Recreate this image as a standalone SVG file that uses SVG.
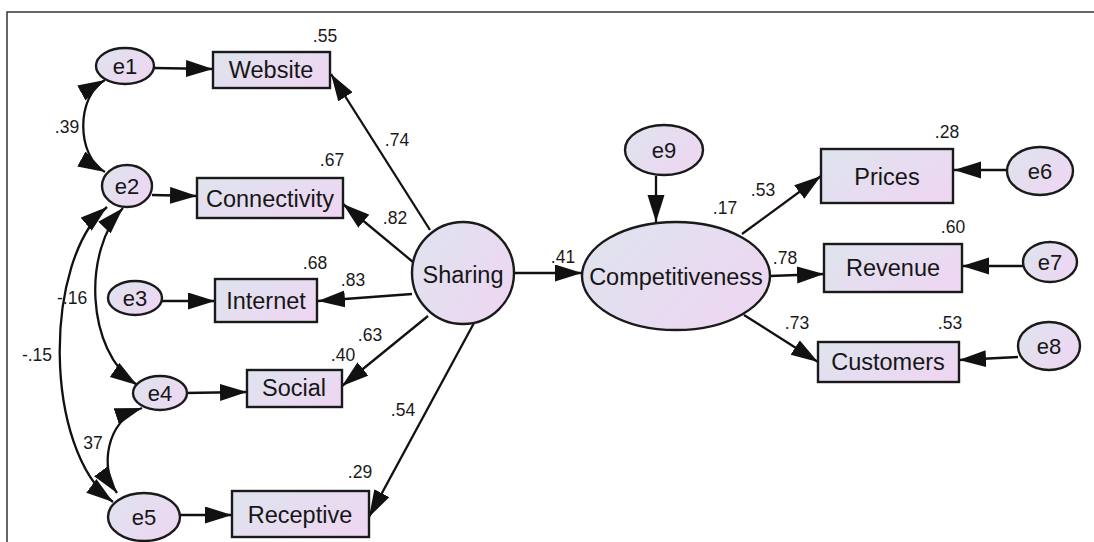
<svg xmlns="http://www.w3.org/2000/svg" width="1094" height="542" viewBox="0 0 1094 542">
<defs>
<linearGradient id="g" x1="0" y1="0.2" x2="1" y2="0.8">
<stop offset="0" stop-color="#dfe3ee"/>
<stop offset="1" stop-color="#eed6f2"/>
</linearGradient>
<marker id="ah" markerUnits="userSpaceOnUse" markerWidth="30" markerHeight="18" refX="27" refY="8.5" orient="auto-start-reverse" viewBox="0 0 30 18">
<path d="M0,0 L27,8.5 L0,17 z" fill="#111"/>
</marker>
<style>
.n{fill:url(#g);stroke:#1a1a1a;stroke-width:2.4}
.t{font-family:"Liberation Sans",Arial,sans-serif;font-size:23.5px;fill:#161616;text-anchor:middle}
.e{font-family:"Liberation Sans",Arial,sans-serif;font-size:22px;fill:#161616;text-anchor:middle}
.v{font-family:"Liberation Sans",Arial,sans-serif;font-size:17.5px;fill:#1a1a1a;text-anchor:middle}
.c{fill:none;stroke:#111;stroke-width:2.3}
.a{marker-end:url(#ah)}
.b{marker-start:url(#ah);marker-end:url(#ah)}
</style>
</defs>
<rect width="1094" height="542" fill="#fff"/>
<path d="M7,542 V12 H1094" fill="none" stroke="#333" stroke-width="1.5"/>

<g id="connectors">
<path class="c a" d="M154,68 L213,69"/>
<path class="c a" d="M152,195 L197,196"/>
<path class="c a" d="M162,301 L215,301"/>
<path class="c a" d="M185,393 L247,392"/>
<path class="c a" d="M180,515 L232,515"/>
<path class="c b" d="M105,80 C76,96 76,156 105,172"/>
<path class="c b" d="M123,208 C83,250 85,350 137,385"/>
<path class="c b" d="M107,207 C43,260 43,450 113,502"/>
<path class="c b" d="M142,408 C105,420 100,470 117,493"/>
<path class="c a" d="M430,230 L331,74"/>
<path class="c a" d="M413,262 L343,204"/>
<path class="c a" d="M412,294 L318,301"/>
<path class="c a" d="M428,316 L342,386"/>
<path class="c a" d="M474,323 L369,517"/>
<path class="c a" d="M514,273 L582,273"/>
<path class="c a" d="M656,176 L656,222"/>
<path class="c a" d="M742,234 L821,176"/>
<path class="c a" d="M770,276 L824,274"/>
<path class="c a" d="M744,315 L818,362"/>
<path class="c a" d="M1008,170 L954,170"/>
<path class="c a" d="M1023,266 L962,266"/>
<path class="c a" d="M1018,357 L959,360"/>
</g>

<g id="labels">
<text class="v" x="67" y="133">.39</text>
<text class="v" x="57" y="304" style="text-anchor:start">-.16</text>
<text class="v" x="37" y="361">-.15</text>
<text class="v" x="93" y="449">37</text>
<text class="v" x="397" y="146">.74</text>
<text class="v" x="395" y="224">.82</text>
<text class="v" x="353" y="286">.83</text>
<text class="v" x="370" y="341">.63</text>
<text class="v" x="403" y="416">.54</text>
<text class="v" x="563" y="263">.41</text>
<text class="v" x="725" y="214">.17</text>
<text class="v" x="763" y="196">.53</text>
<text class="v" x="785" y="264">.78</text>
<text class="v" x="797" y="329">.73</text>
</g>

<g id="e1"><ellipse class="n" cx="125" cy="66" rx="29" ry="18"/><text class="e" x="125" y="74">e1</text></g>
<g id="e2"><ellipse class="n" cx="127" cy="186" rx="25" ry="21"/><text class="e" x="127" y="194">e2</text></g>
<g id="e3"><ellipse class="n" cx="135" cy="298" rx="27" ry="17"/><text class="e" x="135" y="306">e3</text></g>
<g id="e4"><ellipse class="n" cx="160" cy="393" rx="27" ry="17"/><text class="e" x="160" y="401">e4</text></g>
<g id="e5"><ellipse class="n" cx="144" cy="517" rx="36" ry="24"/><text class="e" x="144" y="525">e5</text></g>
<g id="e6"><ellipse class="n" cx="1040" cy="171" rx="33" ry="24"/><text class="e" x="1040" y="179">e6</text></g>
<g id="e7"><ellipse class="n" cx="1050" cy="262" rx="27" ry="20"/><text class="e" x="1050" y="270">e7</text></g>
<g id="e8"><ellipse class="n" cx="1049" cy="346" rx="31" ry="24"/><text class="e" x="1049" y="354">e8</text></g>
<g id="e9"><ellipse class="n" cx="664" cy="150" rx="39" ry="25"/><text class="e" x="664" y="158">e9</text></g>

<g id="Website"><rect class="n" x="213" y="52" width="117" height="36"/><text class="t" x="271" y="78">Website</text><text class="v" x="325" y="42">.55</text></g>
<g id="Connectivity"><rect class="n" x="197" y="178" width="146" height="40"/><text class="t" x="270" y="207">Connectivity</text><text class="v" x="332" y="166">.67</text></g>
<g id="Internet"><rect class="n" x="215" y="279" width="102" height="43"/><text class="t" x="266" y="309">Internet</text><text class="v" x="315" y="269">.68</text></g>
<g id="Social"><rect class="n" x="247" y="370" width="95" height="37"/><text class="t" x="294" y="396">Social</text><text class="v" x="343" y="361">.40</text></g>
<g id="Receptive"><rect class="n" x="232" y="491" width="137" height="46"/><text class="t" x="300" y="523">Receptive</text><text class="v" x="360" y="478">.29</text></g>
<g id="Sharing"><circle class="n" cx="463" cy="273" r="51"/><text class="t" x="463" y="283">Sharing</text></g>
<g id="Competitiveness"><ellipse class="n" cx="676" cy="276" rx="94" ry="54"/><text class="t" x="676" y="285">Competitiveness</text></g>
<g id="Prices"><rect class="n" x="821" y="149" width="132" height="54"/><text class="t" x="887" y="185">Prices</text><text class="v" x="947" y="138">.28</text></g>
<g id="Revenue"><rect class="n" x="824" y="244" width="138" height="48"/><text class="t" x="893" y="276">Revenue</text><text class="v" x="953" y="233">.60</text></g>
<g id="Customers"><rect class="n" x="818" y="342" width="141" height="40"/><text class="t" x="888" y="370">Customers</text><text class="v" x="950" y="329">.53</text></g>
</svg>
